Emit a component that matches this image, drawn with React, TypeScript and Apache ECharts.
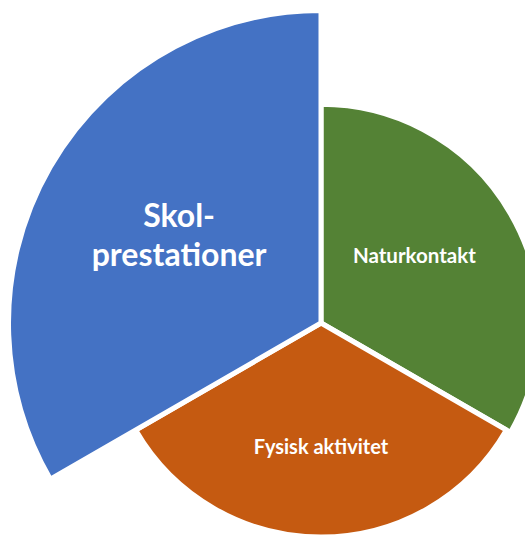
import React, { useEffect, useRef } from "react";
import * as echarts from "echarts";

const categories = ["Naturkontakt", "Fysisk aktivitet", "Skol-\nprestationer"];
const values = [70, 68.5, 100];
const colors = ["#548235", "#C55A11", "#4472C4"];
const labelSizes = [20.5, 20, 32];
const labelLineHeights = [24, 24, 39];
const labelShift = [[-4, -12], [0, 13], [-4, -9]];

export default function App() {
  const ref = useRef<HTMLDivElement>(null);
  useEffect(() => {
    if (!ref.current) return;
    const chart = echarts.init(ref.current, null, { renderer: "svg" });
    chart.setOption({
      animation: false,
      backgroundColor: "#ffffff",
      series: [
        {
          type: "pie",
          roseType: "area",
          center: [321, 323],
          radius: [0, 312.5],
          startAngle: 90,
          clockwise: true,
          silent: true,
          itemStyle: { borderColor: "#ffffff", borderWidth: 5 },
          labelLine: { show: false },
          labelLayout: (p: any) => ({
            dx: labelShift[p.dataIndex][0],
            dy: labelShift[p.dataIndex][1],
          }),
          data: categories.map((name, i) => ({
            name,
            value: values[i],
            itemStyle: { color: colors[i] },
            label: {
              show: true,
              position: "inside",
              formatter: "{b}",
              color: "#ffffff",
              fontFamily: "Lato",
              fontWeight: "bold",
              fontSize: labelSizes[i],
              lineHeight: labelLineHeights[i],
            },
          })),
        },
      ],
    });
    return () => chart.dispose();
  }, []);
  return (
    <div
      ref={ref}
      style={{ position: "fixed", left: 0, top: 0, width: 525, height: 537 }}
    />
  );
}
